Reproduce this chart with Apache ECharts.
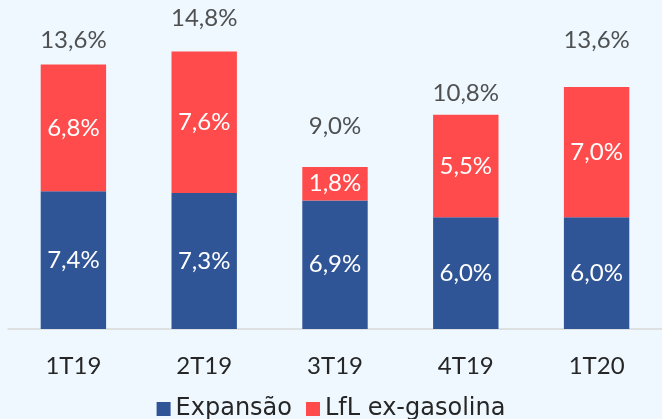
<!DOCTYPE html>
<html>
<head>
<meta charset="utf-8">
<script src="https://cdn.jsdelivr.net/npm/echarts@6/dist/echarts.min.js"></script>
<style>
    html, body { margin: 0; padding: 0; background: #eef8fe; }
    #chart { width: 662px; height: 419px; }
</style>
</head>
<body>
<div id="chart"></div>
<script>
var categories = ['1T19', '2T19', '3T19', '4T19', '1T20'];
var expansao = [7.4, 7.3, 6.9, 6.0, 6.0];
var lfl = [6.8, 7.6, 1.8, 5.5, 7.0];
var totals = [13.6, 14.8, 9.0, 10.8, 13.6];

function pct(v) {
    return v.toFixed(1).replace('.', ',') + '%';
}

var font = 'Lato';
var chart = echarts.init(document.getElementById('chart'));
var option = {
    backgroundColor: '#eef8fe',
    animation: false,
    color: ['#2f5597', '#ff4b4b'],
    grid: { left: 8, width: 660, top: 31, bottom: 90, containLabel: false },
    legend: {
        data: ['Expansão', 'LfL ex-gasolina'],
        top: 392,
        left: 'center',
        icon: 'rect',
        itemWidth: 14,
        itemHeight: 14,
        itemGap: 14,
        textStyle: { fontFamily: 'DejaVu Sans', fontSize: 24, color: '#262626' }
    },
    xAxis: {
        type: 'category',
        data: categories,
        axisLine: { lineStyle: { color: '#d9d9d9', width: 1.5 } },
        axisTick: { show: false },
        axisLabel: { margin: 25, fontFamily: font, fontSize: 24, color: '#262626' }
    },
    yAxis: {
        type: 'value',
        min: 0,
        max: 16,
        show: false
    },
    series: [
        {
            name: 'Expansão',
            type: 'bar',
            stack: 'total',
            barCategoryGap: '50%',
            data: expansao,
            label: {
                show: true, position: 'inside', color: '#fff',
                fontFamily: font, fontSize: 24,
                formatter: function (p) { return pct(p.value); }
            }
        },
        {
            name: 'LfL ex-gasolina',
            type: 'bar',
            stack: 'total',
            data: lfl,
            label: {
                show: true, position: 'inside', color: '#fff',
                fontFamily: font, fontSize: 24,
                formatter: function (p) { return pct(p.value); }
            }
        },
        {
            name: 'Total',
            type: 'scatter',
            symbolSize: 0,
            data: totals,
            label: {
                show: true, position: 'top', distance: 23, color: '#262626',
                fontFamily: font, fontSize: 24,
                formatter: function (p) { return pct(p.value); }
            }
        }
    ]
};
chart.setOption(option);
</script>
</body>
</html>
